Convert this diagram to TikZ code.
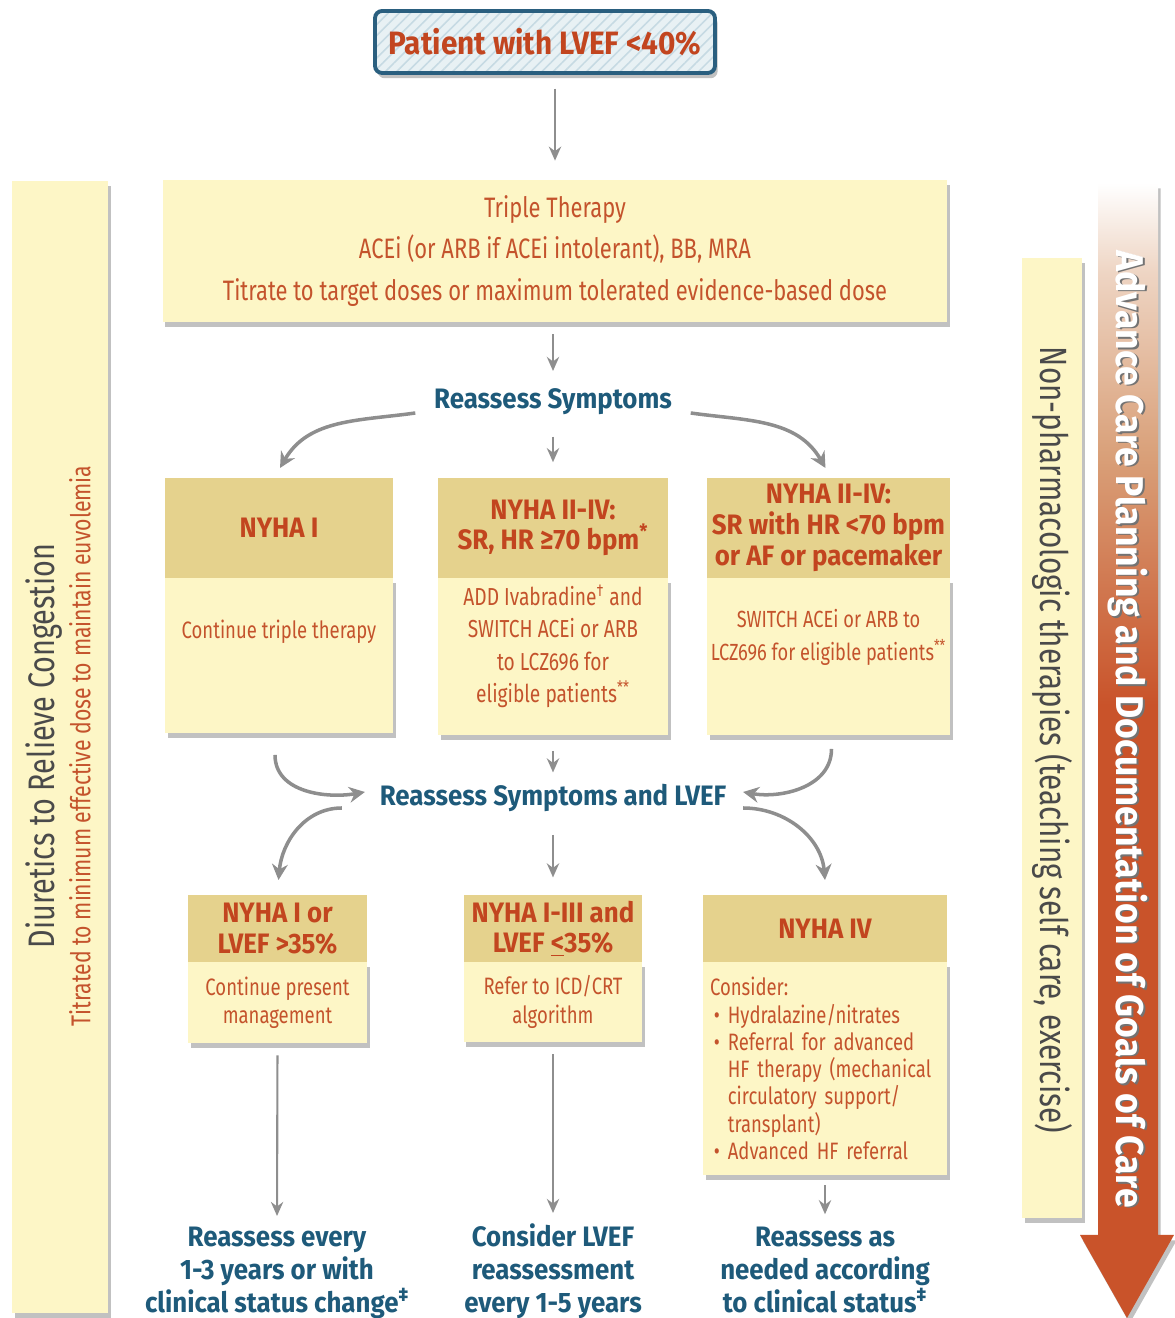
\documentclass[tikz,border=0pt]{standalone}
\usepackage{fontspec}
\setmainfont{Fira Sans}[FakeStretch=0.78, BoldFeatures={FakeStretch=0.92}]
\usetikzlibrary{positioning,arrows.meta,shadows,patterns.meta}

\definecolor{txtor}{HTML}{C4532C}
\definecolor{hdror}{HTML}{C2451F}
\definecolor{txtbl}{HTML}{1E5A7A}
\definecolor{paley}{HTML}{FDF6C6}
\definecolor{hdry}{HTML}{E5D28D}
\definecolor{arrgr}{HTML}{8E8E8E}
\definecolor{bargr}{HTML}{4A4A4A}
\definecolor{advor}{HTML}{C9532A}
\definecolor{advtan}{HTML}{D9A079}
\definecolor{topbl}{HTML}{2A5F7F}
\definecolor{topbg}{HTML}{E8F1F4}
\definecolor{topln}{HTML}{C6DAE3}

\pgfdeclareverticalshading{advshade}{100bp}{color(0bp)=(advor); color(25bp)=(advor); color(52bp)=(advor); color(63bp)=(advtan); color(71bp)=(advtan!45!white); color(75bp)=(white); color(100bp)=(white)}

\tikzset{
  papshadow/.style={drop shadow={shadow xshift=1.5pt, shadow yshift=-3pt, opacity=.35, fill=black!70}},
  paper/.style={fill=paley, outer sep=0pt, inner sep=2pt, align=center, text=txtor},
  bodytxt/.style={inner sep=2pt, align=center, text=txtor},
  hdr/.style={fill=hdry, outer sep=0pt, inner sep=2pt, align=center, text=hdror, font=\fontsize{16}{17.5}\selectfont\bfseries},
  garr/.style={draw=arrgr, line width=1.2pt, -{Stealth[length=8pt,width=7pt]}},
  carr/.style={garr, line width=2pt, -{Stealth[length=9pt,width=9pt]}},
  bluetxt/.style={text=txtbl, inner sep=2pt, align=center, font=\fontsize{16}{18.7}\selectfont\bfseries},
}

\begin{document}
\begin{tikzpicture}[x=0.02cm, y=0.02cm]
\useasboundingbox (0,0) rectangle (1174,1318);

% side bars
\node[paper, papshadow, minimum width=1.92cm, minimum height=22.64cm] (lb) at (60,571) {};
\node[rotate=90, text=bargr, font=\fontsize{21}{22}\selectfont] (lt1) at (44,572) {Diuretics to Relieve Congestion};
\node[rotate=90, text=txtor, font=\fontsize{15.5}{16}\selectfont] (lt2) at (80,572) {Titrated to minimum effective dose to maintain euvolemia};

\node[paper, papshadow, minimum width=1.2cm, minimum height=19.2cm] (rb) at (1052,580) {};
\node[rotate=-90, text=bargr, font=\fontsize{21.6}{22}\selectfont] (rt) at (1052,578) {Non-pharmacologic therapies (teaching self care, exercise)};

\path[papshadow, shading=advshade] (1098,1135) -- (1158,1135) -- (1158,83) -- (1174,83) -- (1127,0) -- (1080,83) -- (1098,83) -- cycle;
\node[rotate=-90, text=black!55, font=\fontsize{22}{22}\selectfont\bfseries] (advsh) at (1129.5,587.5) {Advance Care Planning and Documentation of Goals of Care};
\node[rotate=-90, text=white, font=\fontsize{22}{22}\selectfont\bfseries] (adv) at (1128,589) {Advance Care Planning and Documentation of Goals of Care};

% top
\node[papshadow, draw=topbl, line width=2.2pt, rounded corners=4pt, preaction={fill=topbg}, pattern={Lines[angle=45, distance=4.5pt, line width=0.9pt]}, pattern color=topln, minimum width=6.8cm, minimum height=1.24cm, text=hdror, font=\fontsize{18.4}{20}\selectfont\bfseries] (pt) at (545,1276) {Patient with LVEF <40\%};

\node[paper, papshadow, minimum width=15.7cm, minimum height=2.84cm, font=\fontsize{16}{23.8}\selectfont] (tt) at (555,1067) {Triple Therapy\\ACEi (or ARB if ACEi intolerant), BB, MRA\\Titrate to target doses or maximum tolerated evidence-based dose};

\node[bluetxt] (rs) at (553,916) {Reassess Symptoms};

% second row
\node[hdr, minimum width=4.56cm, minimum height=2cm] (h1) at (279,790) {NYHA I};
\node[paper, papshadow, below=0pt of h1, minimum width=4.56cm, minimum height=3.1cm] (b1) {};
\node[bodytxt, font=\fontsize{13.5}{18.5}\selectfont] (b1t) at ([yshift=24*0.02cm]b1.center) {Continue triple therapy};

\node[hdr, minimum width=4.6cm, minimum height=2cm] (h2) at (553,790) {NYHA II-IV:\\SR, HR ≥70 bpm\textsuperscript{*}};
\node[paper, papshadow, below=0pt of h2, minimum width=4.6cm, minimum height=3.14cm] (b2) {};
\node[bodytxt, font=\fontsize{14}{18.5}\selectfont] (b2t) at ([yshift=10*0.02cm]b2.center) {ADD Ivabradine\textsuperscript{\textdagger} and\\SWITCH ACEi or ARB\\to LCZ696 for\\eligible patients\textsuperscript{**}};

\node[hdr, minimum width=4.86cm, minimum height=2cm] (h3) at (828.5,790) {NYHA II-IV:\\SR with HR <70 bpm\\or AF or pacemaker};
\node[paper, papshadow, below=0pt of h3, minimum width=4.86cm, minimum height=3.14cm] (b3) {};
\node[bodytxt, font=\fontsize{13.3}{19}\selectfont] (b3t) at ([yshift=19*0.02cm]b3.center) {SWITCH ACEi or ARB to\\LCZ696 for eligible patients\textsuperscript{**}};

\node[bluetxt] (rsl) at (553,520) {Reassess Symptoms and LVEF};

% third row
\node[hdr, minimum width=3.58cm, minimum height=1.34cm] (g1) at (277.5,389.5) {NYHA I or\\LVEF >35\%};
\node[paper, papshadow, below=0pt of g1, minimum width=3.58cm, minimum height=1.62cm, font=\fontsize{13.5}{16}\selectfont] (c1) {Continue present\\management};

\node[hdr, minimum width=3.58cm, minimum height=1.34cm] (g2) at (553,389.5) {NYHA I-III and\\LVEF \underline{<}35\%};
\node[paper, papshadow, below=0pt of g2, minimum width=3.58cm, minimum height=1.6cm, font=\fontsize{13.5}{16}\selectfont] (c2) {Refer to ICD/CRT\\algorithm};

\node[hdr, minimum width=4.88cm, minimum height=1.34cm] (g3) at (825,389.5) {NYHA IV};
\node[paper, papshadow, below=0pt of g3, minimum width=4.88cm, minimum height=4.26cm, align=left, text width=4.6cm, font=\fontsize{13.5}{15.5}\selectfont] (c3) {Consider:\\
\,\textbullet~Hydralazine/nitrates\\
\,\textbullet~Referral for advanced\\
\,\hphantom{\textbullet~}HF therapy (mechanical\\
\,\hphantom{\textbullet~}circulatory support/\\
\,\hphantom{\textbullet~}transplant)\\
\,\textbullet~Advanced HF referral};

% bottom
\node[bluetxt, anchor=north] (f1) at (277,95) {Reassess every\\1-3 years or with\\clinical status change\textsuperscript{\textdaggerdbl}};
\node[bluetxt, anchor=north] (f2) at (553,98) {Consider LVEF\\reassessment\\every 1-5 years};
\node[bluetxt, anchor=north] (f3) at (825,95) {Reassess as\\needed according\\to clinical status\textsuperscript{\textdaggerdbl}};

% connectors
\draw[garr, shorten <=8.5pt, shorten >=11pt] (pt.south -| tt.north) -- (tt.north);
\draw[garr, shorten <=7pt, shorten >=8pt] (tt.south -| rs.north) -- (rs.north);
\draw[garr, shorten <=10pt, shorten >=9pt] (rs.south) -- (h2.north);
\draw[carr] ([shift={(-15,-11)}]rs.west) to[out=188, in=60] ([shift={(1,10)}]h1.north);
\draw[carr] ([shift={(15,-11)}]rs.east) to[out=-8, in=120] ([shift={(-3,10)}]h3.north);

\draw[garr, shorten <=9pt, shorten >=4.5pt] (b2.south) -- (rsl.north);
\draw[carr] ([shift={(-4,-22)}]b1.south) to[out=270, in=190] ([shift={(-11,6)}]rsl.west);
\draw[carr] ([shift={(3,-14)}]b3.south) to[out=270, in=-10] ([shift={(13,6)}]rsl.east);

\draw[garr, shorten <=11pt, shorten >=10pt] (rsl.south) -- (g2.north);
\draw[carr] ([shift={(-34,-10)}]rsl.west) to[out=180, in=85] ([shift={(1,15)}]g1.north);
\draw[carr] ([shift={(13,-10)}]rsl.east) to[out=0, in=95] ([shift={(0,15)}]g3.north);

\draw[garr, shorten <=7pt, shorten >=4pt] (c1.south) -- (f1.north);
\draw[garr, shorten <=7pt, shorten >=4pt] (c2.south) -- (f2.north);
\draw[garr, shorten <=6pt, shorten >=5pt] (c3.south) -- (f3.north);
\end{tikzpicture}
\end{document}
